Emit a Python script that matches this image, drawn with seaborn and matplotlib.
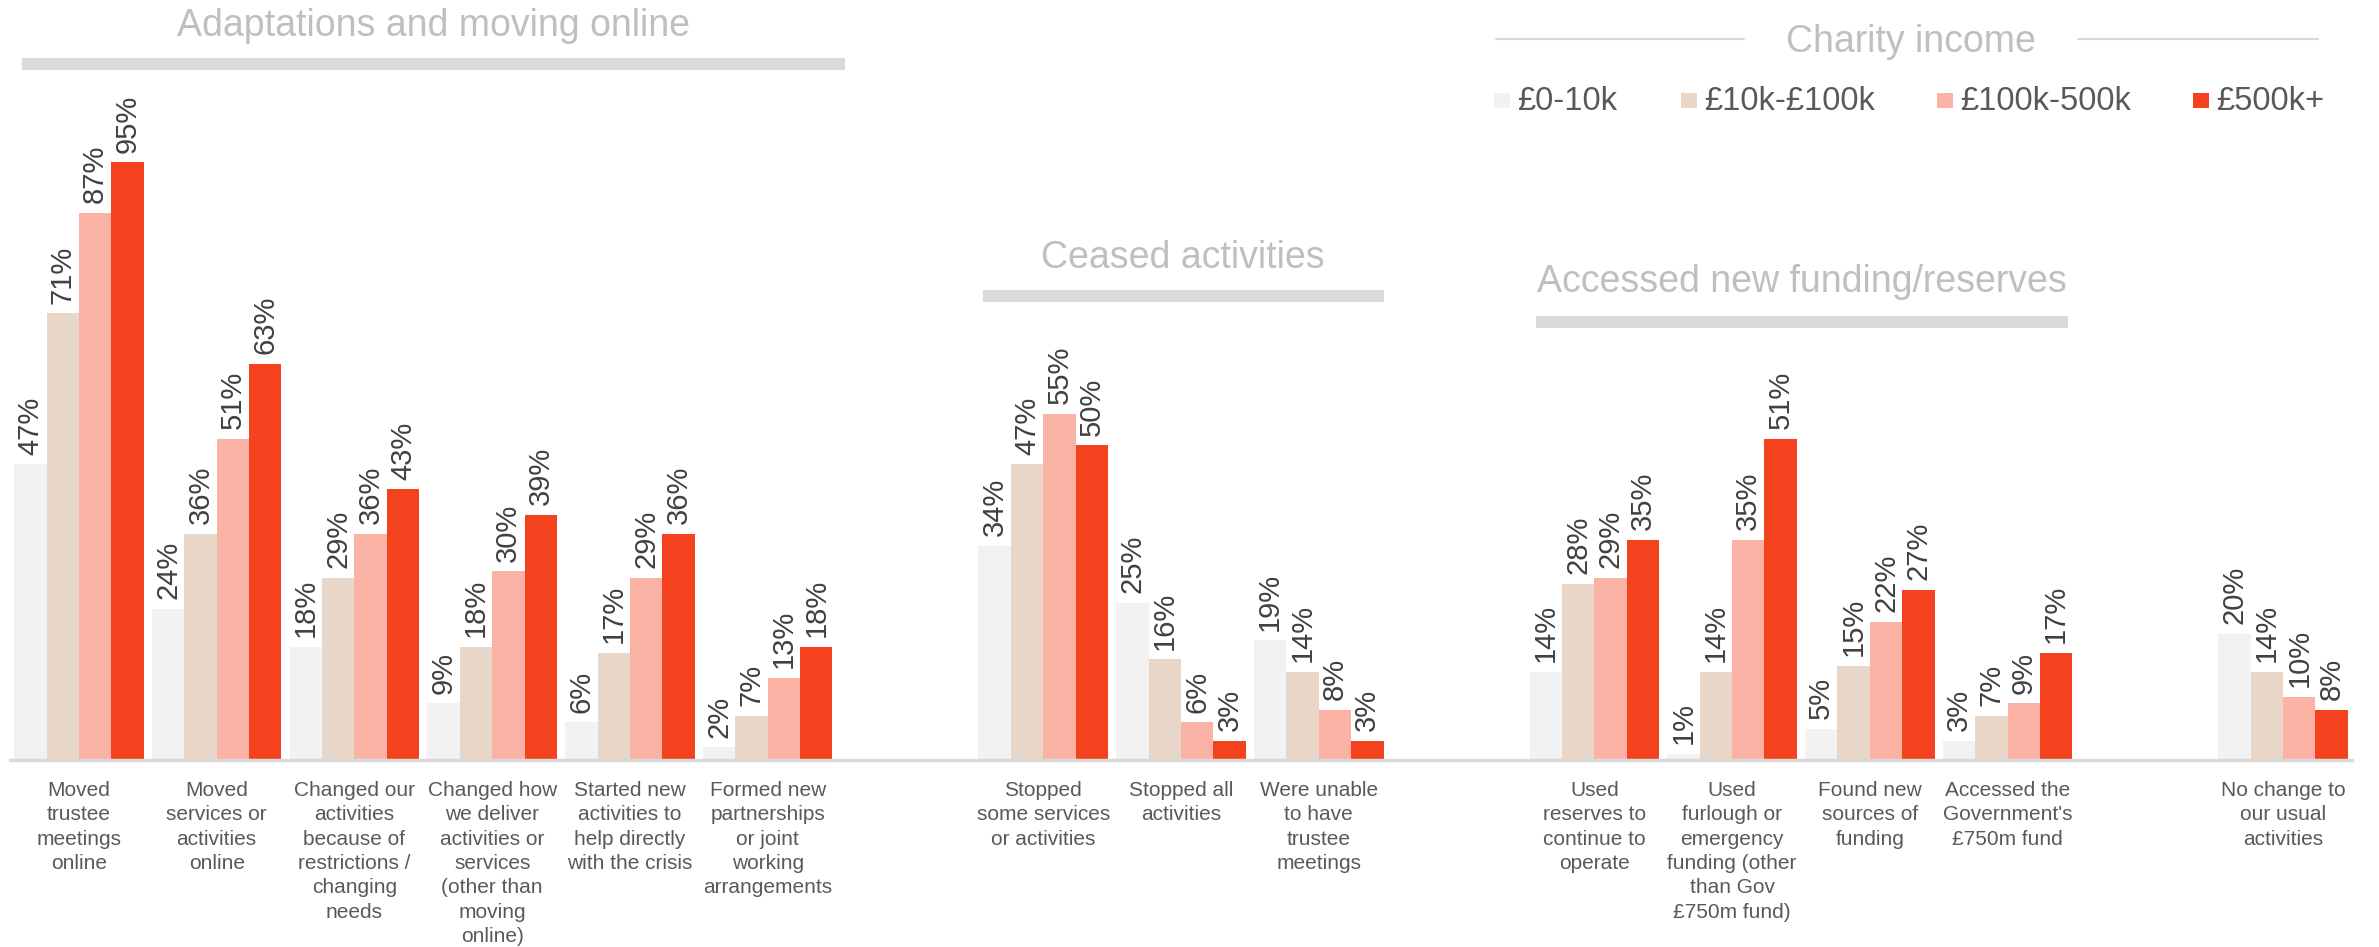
import matplotlib
matplotlib.use("Agg")
import matplotlib.pyplot as plt
import matplotlib.transforms as mtransforms
from matplotlib.patches import Rectangle
import seaborn as sns
import pandas as pd

# ---------------- data ----------------
bands = ["£0-10k", "£10k-£100k", "£100k-500k", "£500k+"]
colors = ["#F2F2F2", "#E8D6C9", "#FAB2A5", "#F4421F"]

categories = [
    "Moved\ntrustee\nmeetings\nonline",
    "Moved\nservices or\nactivities\nonline",
    "Changed our\nactivities\nbecause of\nrestrictions /\nchanging\nneeds",
    "Changed how\nwe deliver\nactivities or\nservices\n(other than\nmoving\nonline)",
    "Started new\nactivities to\nhelp directly\nwith the crisis",
    "Formed new\npartnerships\nor joint\nworking\narrangements",
    "_gap1",
    "Stopped\nsome services\nor activities",
    "Stopped all\nactivities",
    "Were unable\nto have\ntrustee\nmeetings",
    "_gap2",
    "Used\nreserves to\ncontinue to\noperate",
    "Used\nfurlough or\nemergency\nfunding (other\nthan Gov\n£750m fund)",
    "Found new\nsources of\nfunding",
    "Accessed the\nGovernment's\n£750m fund",
    "_gap3",
    "No change to\nour usual\nactivities",
]

values = {
    categories[0]: [47, 71, 87, 95],
    categories[1]: [24, 36, 51, 63],
    categories[2]: [18, 29, 36, 43],
    categories[3]: [9, 18, 30, 39],
    categories[4]: [6, 17, 29, 36],
    categories[5]: [2, 7, 13, 18],
    categories[7]: [34, 47, 55, 50],
    categories[8]: [25, 16, 6, 3],
    categories[9]: [19, 14, 8, 3],
    categories[11]: [14, 28, 29, 35],
    categories[12]: [1, 14, 35, 51],
    categories[13]: [5, 15, 22, 27],
    categories[14]: [3, 7, 9, 17],
    categories[16]: [20, 14, 10, 8],
}

sections = ["Adaptations and moving online", "Ceased activities", "Accessed new funding/reserves"]
legend_title = "Charity income"

rows = []
for cat, vals in values.items():
    for b, v in zip(bands, vals):
        rows.append({"cat": cat, "band": b, "val": v})
df = pd.DataFrame(rows)

# ---------------- plot ----------------
sns.set_theme(style="white")
plt.rcParams["font.family"] = ["Liberation Sans", "DejaVu Sans"]

W, H = 2379, 947
fig = plt.figure(figsize=(W / 100, H / 100), dpi=100)
ax = fig.add_axes([10 / W, 187 / H, 2342 / W, 760 / H])

sns.barplot(data=df, x="cat", y="val", hue="band", order=categories,
            hue_order=bands, palette=colors, saturation=1, width=0.94,
            gap=0, linewidth=0, legend=False, ax=ax, errorbar=None)

ax.set_xlim(-0.5, len(categories) - 0.5)
ax.set_ylim(0, 120.8)
ax.set_xlabel("")
ax.set_ylabel("")
ax.set_yticks([])
for s in ["top", "left", "right"]:
    ax.spines[s].set_visible(False)
ax.spines["bottom"].set_color("#D9D9D9")
ax.spines["bottom"].set_linewidth(2.5)

ax.set_xticks(range(len(categories)))
ax.set_xticklabels(["" if c.startswith("_gap") else c for c in categories],
                   fontsize=15, color="#595959", linespacing=1.36)
ax.tick_params(axis="x", length=0, pad=15)

for cont in ax.containers:
    ax.bar_label(cont, fmt="%g%%", rotation=90, padding=7, fontsize=21,
                 color="#404040")

# section headings with grey bars
blend = mtransforms.blended_transform_factory(ax.transData, fig.transFigure)
sec_specs = [
    (sections[0], -0.41, 5.56, 26, 64, 27),
    (sections[1], 6.56, 9.47, 258, 296, 27),
    (sections[2], 10.58, 14.44, 282, 322, 27),
]
for text, x0, x1, ty, by, fs in sec_specs:
    ax.text((x0 + x1) / 2, 1 - ty / H, text, transform=blend, ha="center",
            va="center", fontsize=fs, color="#BFBFBF")
    ax.add_patch(Rectangle((x0, 1 - (by + 6) / H), x1 - x0, 12 / H,
                           transform=blend, color="#D9D9D9", clip_on=False,
                           linewidth=0))

# legend (manual, figure coords)
fig.text(1911 / W, 1 - 42 / H, legend_title, ha="center", va="center",
         fontsize=27, color="#BFBFBF")
fig.add_artist(plt.Line2D([1496 / W, 1744 / W], [1 - 39 / H] * 2,
                          color="#D9D9D9", linewidth=1.5))
fig.add_artist(plt.Line2D([2078 / W, 2318 / W], [1 - 39 / H] * 2,
                          color="#D9D9D9", linewidth=1.5))
leg_x = [1494, 1681, 1937, 2193]
for x, b, c in zip(leg_x, bands, colors):
    fig.add_artist(Rectangle((x / W, 1 - 108 / H), 16 / W, 15 / H,
                             transform=fig.transFigure, color=c, linewidth=0))
    fig.text((x + 23) / W, 1 - 101 / H, b, ha="left", va="center",
             fontsize=23.5, color="#595959")

fig.savefig("out.png", dpi=100)
